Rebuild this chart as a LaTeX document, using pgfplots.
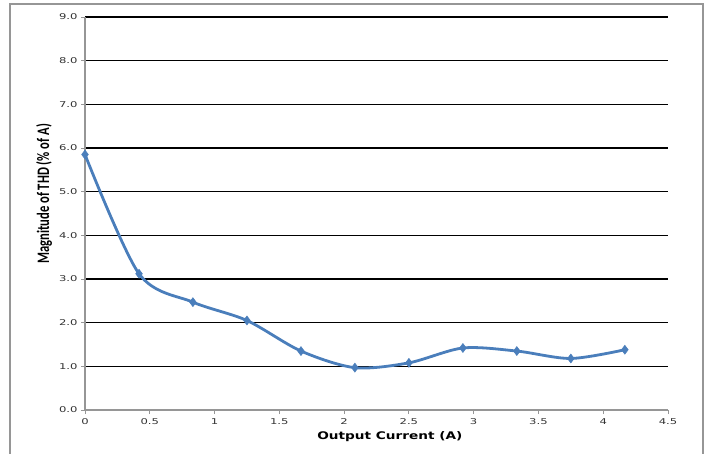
\documentclass[border=0pt]{standalone}
\usepackage{pgfplots}
\pgfplotsset{compat=1.18}
\usepackage{fontspec}
\setmainfont{DejaVu Sans}
\newfontfamily\tickfont[FakeStretch=1.45]{DejaVu Sans}
\newfontfamily\xlabfont[FakeStretch=1.3]{DejaVu Sans}
\newfontfamily\ylabfont[FakeStretch=0.72]{Carlito}
\definecolor{thdblue}{RGB}{74,126,187}
\definecolor{axgray}{RGB}{150,150,150}

\begin{document}
\begin{tikzpicture}
\useasboundingbox (0,0) rectangle (707bp,454bp);
\draw[axgray, line width=1.2bp] (10bp,-5bp) -- (10bp,450bp) -- (703bp,450bp) -- (703bp,-5bp);
\begin{axis}[
    at={(85bp,44bp)}, anchor=south west,
    scale only axis, width=583bp, height=393bp,
    xmin=0, xmax=4.5, ymin=0, ymax=9,
    xtick={0,0.5,1,1.5,2,2.5,3,3.5,4,4.5},
    xticklabels={0,0.5,1,1.5,2,2.5,3,3.5,4,4.5},
    ytick={0,1,2,3,4,5,6,7,8,9},
    yticklabels={0.0,1.0,2.0,3.0,4.0,5.0,6.0,7.0,8.0,9.0},
    axis x line*=bottom, axis y line*=left,
    axis line style={axgray, line width=1.4bp, -},
    tick style={axgray, line width=1bp},
    major tick length=4bp, tick align=outside,
    ymajorgrids, grid style={black, line width=1.3bp},
    ticklabel style={font=\tickfont\fontsize{8bp}{9bp}\selectfont, text=black!80},
    xticklabel style={yshift=-1bp},
    xlabel={\xlabfont\bfseries\fontsize{10.5bp}{11bp}\selectfont Output Current (A)},
    xlabel style={at={(axis description cs:0.523,0)}, anchor=center, yshift=-27bp},
    ylabel={\ylabfont\bfseries\fontsize{17.5bp}{18bp}\selectfont Magnitude of THD (\% of A)},
    ylabel style={at={(axis description cs:-0.0703,0.55)}, anchor=center},
]
\addplot[color=thdblue, line width=2.8bp, smooth, tension=0.5,
         mark=diamond*, mark size=4.5bp, mark options={fill=thdblue, line width=0.5bp}]
coordinates {
    (0,5.85) (0.417,3.12) (0.833,2.47) (1.25,2.05) (1.667,1.35)
    (2.083,0.97) (2.5,1.08) (2.917,1.42) (3.333,1.35) (3.75,1.18) (4.167,1.38)
};
\end{axis}
\end{tikzpicture}
\end{document}
